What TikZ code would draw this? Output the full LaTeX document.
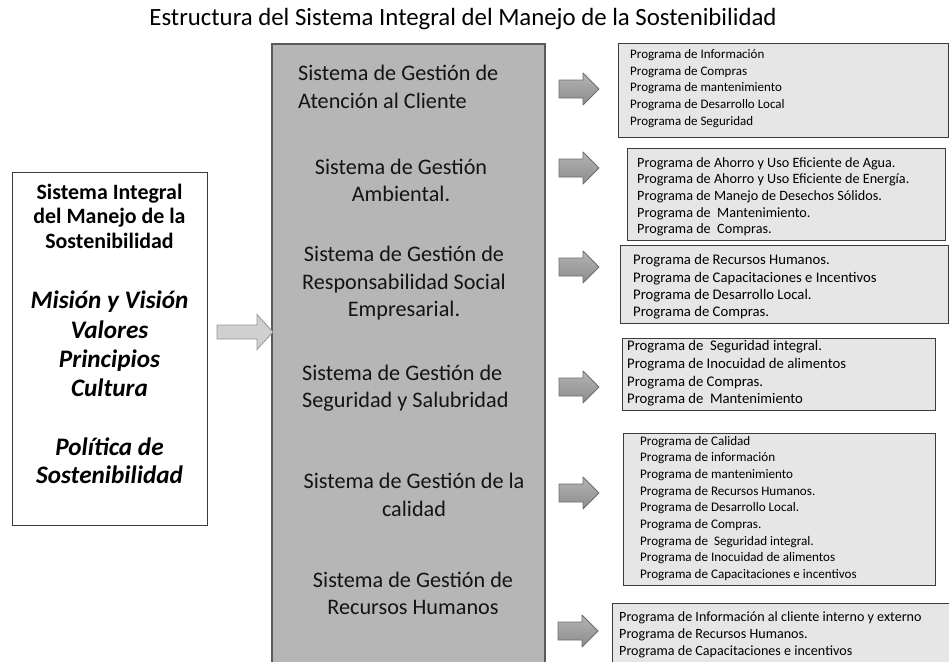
\documentclass[tikz,border=0pt]{standalone}
\usepackage{fontspec}
\setmainfont{Carlito}
\usetikzlibrary{fit}
\definecolor{midfill}{HTML}{B6B6B6}
\definecolor{midline}{HTML}{5A5A5A}
\definecolor{boxline}{HTML}{3C3C3C}
\definecolor{progfill}{HTML}{E6E6E6}
\definecolor{arrtop}{HTML}{B4B4B4}
\definecolor{arrbot}{HTML}{8C8C8C}
\definecolor{arrline}{HTML}{6E6E6E}
\definecolor{larrfill}{HTML}{D0D0D0}
\definecolor{larrline}{HTML}{959595}
\definecolor{systextcol}{HTML}{141414}
\begin{document}
\begin{tikzpicture}[x=1pt,y=-1pt,
  progbox/.style={draw=boxline, fill=progfill, line width=1pt, inner sep=0pt},
  progtext/.style={anchor=west, align=left, inner sep=0pt},
  systext/.style={inner sep=0pt, text=systextcol, font=\fontsize{22.2}{27.5}\selectfont},
  lefttext/.style={inner sep=0pt, align=center},
  rarrowpic/.pic={\draw[draw=arrline, top color=arrtop, bottom color=arrbot, line width=0.8pt, line join=round]
      (-20,-9) -- (4,-9) -- (4,-16) -- (20,0) -- (4,16) -- (4,9) -- (-20,9) -- cycle;},
  larrowpic/.pic={\draw[draw=larrline, fill=larrfill, line width=0.8pt]
      (-28,-7) -- (12,-7) -- (12,-17.5) -- (28,0) -- (12,17.5) -- (12,7) -- (-28,7) -- cycle;}
]
\useasboundingbox (0,0) rectangle (949,661);
\clip (0,0) rectangle (949,661);

% title
\node[inner sep=0pt, font=\fontsize{24.8}{28}\selectfont] (title) at (463,19)
  {Estructura del Sistema Integral del Manejo de la Sostenibilidad};

% left box
\node[draw=boxline, fill=white, line width=1pt, inner sep=0pt, fit={(12,172) (207,525)}] (lbox) {};
\node[lefttext, font=\fontsize{21.9}{24.5}\selectfont\bfseries] (lt1) at (109.5,216)
  {Sistema Integral\\del Manejo de la\\Sostenibilidad};
\node[lefttext, font=\fontsize{25.2}{29.3}\selectfont\bfseries\itshape] (lt2) at (109.5,344)
  {Misión y Visión\\Valores\\Principios\\Cultura};
\node[lefttext, font=\fontsize{25.2}{28}\selectfont\bfseries\itshape] (lt3) at (109.5,461)
  {Política de\\Sostenibilidad};

% middle box
\node[draw=midline, fill=midfill, line width=1.2pt, inner sep=0pt, fit={(272,44) (545,680)}] (mid) {};

% left arrow
\coordinate (la) at (245,332);
\pic at (la) {larrowpic};

% middle texts
\node[systext, anchor=west, align=left] (s1) at (298,87) {Sistema de Gestión de\\Atención al Cliente};
\node[systext, align=center] (s2) at (401,180.5) {Sistema de Gestión\\Ambiental.};
\node[systext, align=center] (s3) at (404,283.5) {Sistema de Gestión de\\Responsabilidad Social\\Empresarial.};
\node[systext, anchor=west, align=left] (s4) at (302,388) {Sistema de Gestión de\\Seguridad y Salubridad};
\node[systext, align=center] (s5) at (414,495) {Sistema de Gestión de la\\calidad};
\node[systext, align=center] (s6) at (413,593.5) {Sistema de Gestión de\\Recursos Humanos};

% right arrows
\coordinate (a1) at (579,89);
\coordinate (a2) at (579,168);
\coordinate (a3) at (579,267);
\coordinate (a4) at (579,387);
\coordinate (a5) at (579,493);
\coordinate (a6) at (578,631);
\foreach \a in {a1,a2,a3,a4,a5,a6} { \pic at (\a) {rarrowpic}; }

% program boxes
\node[progbox, fit={(618,44) (948,137)}] (b1) {};
\node[progbox, fit={(627,148) (945,240)}] (b2) {};
\node[progbox, fit={(620,245) (948,323)}] (b3) {};
\node[progbox, fit={(622,338) (935,410)}] (b4) {};
\node[progbox, fit={(623,433) (935,585)}] (b5) {};
\node[progbox, fit={(612,603) (962,680)}] (b6) {};

\node[progtext, font=\fontsize{13}{16.6}\selectfont] (t1) at (630,88.5)
  {Programa de Información\\Programa de Compras\\Programa de mantenimiento\\Programa de Desarrollo Local\\Programa de Seguridad};
\node[progtext, font=\fontsize{14.2}{16.7}\selectfont] (t2) at (637,196.7)
  {Programa de Ahorro y Uso Eficiente de Agua.\\Programa de Ahorro y Uso Eficiente de Energía.\\Programa de Manejo de Desechos Sólidos.\\Programa de\ \ Mantenimiento.\\Programa de\ \ Compras.};
\node[progtext, font=\fontsize{14.7}{17.3}\selectfont] (t3) at (633,287)
  {Programa de Recursos Humanos.\\Programa de Capacitaciones e Incentivos\\Programa de Desarrollo Local.\\Programa de Compras.};
\node[progtext, font=\fontsize{14.7}{17.8}\selectfont] (t4) at (627,373.4)
  {Programa de\ \ Seguridad integral.\\Programa de Inocuidad de alimentos\\Programa de Compras.\\Programa de\ \ Mantenimiento};
\node[progtext, font=\fontsize{13.1}{16.67}\selectfont] (t5) at (640,508.3)
  {Programa de Calidad\\Programa de información\\Programa de mantenimiento\\Programa de Recursos Humanos.\\Programa de Desarrollo Local.\\Programa de Compras.\\Programa de\ \ Seguridad integral.\\Programa de Inocuidad de alimentos\\Programa de Capacitaciones e incentivos};
\node[progtext, font=\fontsize{14.1}{17}\selectfont] (t6) at (619,635)
  {Programa de Información al cliente interno y externo\\Programa de Recursos Humanos.\\Programa de Capacitaciones e incentivos};
\end{tikzpicture}
\end{document}
